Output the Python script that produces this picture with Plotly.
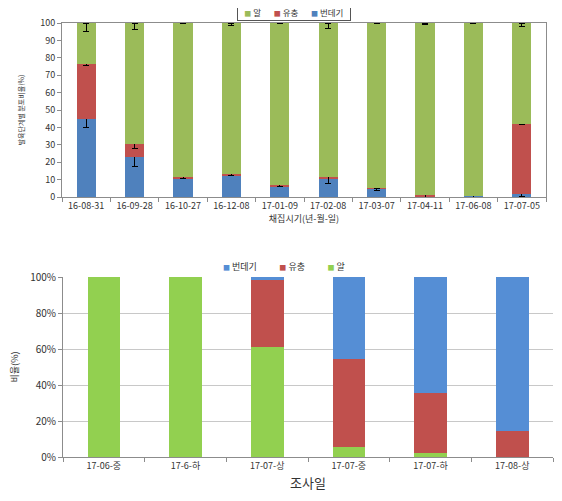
import plotly.graph_objects as go

# ---- Top chart data ----
dates_top = ["16-08-31", "16-09-28", "16-10-27", "16-12-08", "17-01-09",
             "17-02-08", "17-03-07", "17-04-11", "17-06-08", "17-07-05"]
pupa_top = [45.0, 23.1, 10.5, 12.3, 6.0, 10.5, 4.6, 0.0, 0.8, 1.9]
larva_top = [31.7, 7.4, 1.2, 1.0, 0.9, 0.8, 0.3, 1.1, 0.0, 39.9]
egg_top = [23.3, 69.5, 88.3, 86.7, 93.1, 88.7, 95.1, 98.9, 99.2, 58.2]
pupa_err = [5.2, 5.7, 0.0, 0.0, 0.0, 0.0, 0.8, 0.0, 1.8, 1.8]
larva_err = [1.3, 2.7, 0.8, 0.9, 0.6, 3.3, 0.0, 1.1, 0.0, 0.0]
egg_err = [5.0, 4.0, 0.5, 1.4, 0.5, 3.3, 0.5, 1.0, 0.3, 2.0]

# ---- Bottom chart data ----
dates_bot = ["17-06-중", "17-6-하", "17-07-상", "17-07-중", "17-07-하", "17-08-상"]
egg_bot = [100.0, 100.0, 61.3, 5.3, 2.1, 0.0]
larva_bot = [0.0, 0.0, 37.2, 49.0, 33.6, 14.3]
pupa_bot = [0.0, 0.0, 1.5, 45.7, 64.3, 85.7]

ticks_top = [0, 10, 20, 30, 40, 50, 60, 70, 80, 90, 100]
ticks_bot = [0, 20, 40, 60, 80, 100]

FONT = "Noto Sans CJK KR"
BLUE1, RED1, GREEN1 = "#4F81BD", "#C0504D", "#9BBB59"
BLUE2, RED2, GREEN2 = "#558ED5", "#C0504D", "#92D050"

fig = go.Figure()

eb = dict(color="black", thickness=1, width=3)

top_series = [("번데기", pupa_top, BLUE1, dict(type="data", array=pupa_err, visible=True, **eb)),
              ("유충", larva_top, RED1, dict(type="data", array=larva_err, visible=True, **eb)),
              ("알", egg_top, GREEN1, dict(type="data", symmetric=False,
                                          array=[0] * len(egg_err), arrayminus=egg_err,
                                          visible=True, **eb))]
for name, vals, col, err in top_series:
    fig.add_trace(go.Bar(x=dates_top, y=vals, name=name, marker_color=col,
                         marker_line_width=0, width=0.4, xaxis="x", yaxis="y",
                         showlegend=False, error_y=err))

bot_series = [("알", egg_bot, GREEN2), ("유충", larva_bot, RED2), ("번데기", pupa_bot, BLUE2)]
for name, vals, col in bot_series:
    fig.add_trace(go.Bar(x=dates_bot, y=vals, name=name, marker_color=col,
                         marker_line_width=0, width=0.4, xaxis="x2", yaxis="y2",
                         showlegend=False))

# page body has an 8px default margin
OFF = 8
W, H = 562 - OFF, 501 - OFF
def px_x(v):
    return (v - OFF) / W
def px_y(v):
    return (H - (v - OFF)) / H

def sq(col):
    return f"<span style='color:{col};font-size:7px'>■</span>"

EN = "\u2002"
legend_top = (f"{EN}{sq(GREEN1)} 알{EN*3}{sq(RED1)} 유충{EN*3}{sq(BLUE1)} 번데기{EN}")
legend_bot = (f"{sq(BLUE2)} 번데기{EN*5}{sq(RED2)} 유충{EN*5}{sq(GREEN2)} 알")

fig.update_layout(
    width=W, height=H, barmode="stack",
    margin=dict(l=0, r=0, t=0, b=0, autoexpand=False),
    paper_bgcolor="white", plot_bgcolor="white",
    font=dict(family=FONT, size=9, color="#333333"),
    showlegend=False,
    xaxis=dict(domain=[px_x(62), px_x(546)], anchor="y", type="category",
               automargin=False, tickangle=0,
               showline=True, linecolor="#8c8c8c", mirror=True,
               ticks="outside", tickson="boundaries", ticklen=4, tickcolor="#8c8c8c",
               tickfont=dict(size=9, color="#333333"),
               title=dict(text="채집시기(년-월-일)", font=dict(size=9), standoff=2)),
    yaxis=dict(domain=[px_y(197), px_y(23)], anchor="x", range=[0, 100],
               automargin=False,
               tickvals=ticks_top, showgrid=False, zeroline=False,
               showline=True, linecolor="#8c8c8c", mirror=True,
               ticks="outside", ticklen=4, tickcolor="#8c8c8c",
               tickfont=dict(size=9, color="#333333"),
               title=dict(text="발육단계별 분포비율(%)", font=dict(size=7), standoff=14)),
    xaxis2=dict(domain=[px_x(63), px_x(553)], anchor="y2", type="category",
                automargin=False, tickangle=0,
                showline=True, linecolor="#8c8c8c",
                ticks="outside", tickson="boundaries", ticklen=4, tickcolor="#8c8c8c",
                tickfont=dict(size=9, color="#333333"),
                title=dict(text="조사일", font=dict(size=13), standoff=8)),
    yaxis2=dict(domain=[px_y(457), px_y(277)], anchor="x2", range=[0, 100],
                automargin=False,
                tickvals=ticks_bot, ticktext=[f"{t}%" for t in ticks_bot],
                showgrid=True, gridcolor="#c8c8c8", zeroline=False,
                showline=True, linecolor="#8c8c8c",
                ticks="outside", ticklen=4, tickcolor="#8c8c8c",
                tickfont=dict(size=10, color="#333333"),
                title=dict(text="비율(%)", font=dict(size=9), standoff=10)),
    annotations=[
        dict(text=legend_top, xref="paper", yref="paper", x=px_x(294), y=px_y(12),
             xanchor="center", yanchor="middle", showarrow=False,
             font=dict(size=8.5, color="#333333"), bordercolor="#555555", borderwidth=1,
             borderpad=2, bgcolor="white"),
        dict(text=legend_bot, xref="paper", yref="paper", x=px_x(284), y=px_y(266),
             xanchor="center", yanchor="middle", showarrow=False,
             font=dict(size=9, color="#333333")),
    ],
)

fig.write_html("out.html")
